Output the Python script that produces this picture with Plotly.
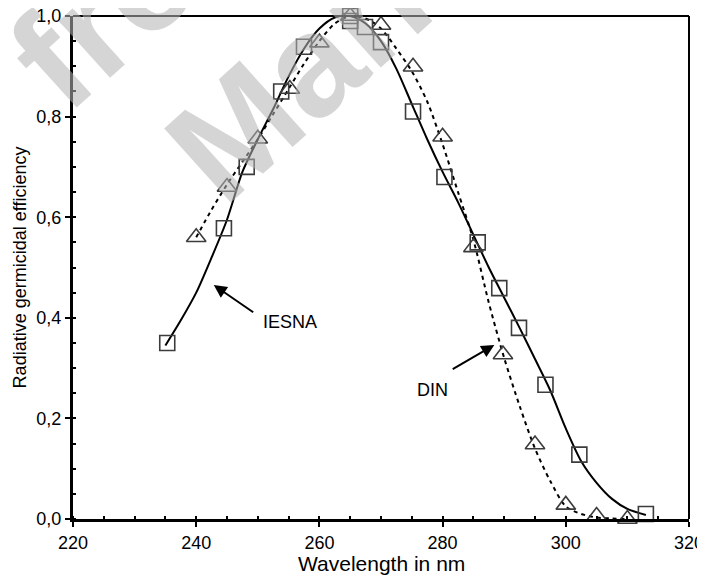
import plotly.graph_objects as go

# IESNA curve (solid line)
iesna_curve_x = [235, 237.5, 240, 242.5, 245, 247.5, 250, 252.5, 255, 257.5, 260, 262.5, 265,
                 267.5, 270, 272.5, 275, 277.5, 280, 282.5, 285, 287.5, 290, 292.5, 295, 297.5,
                 300, 302.5, 305, 307.5, 310, 313]
iesna_curve_y = [0.345, 0.395, 0.45, 0.52, 0.595, 0.69, 0.755, 0.815, 0.88, 0.935, 0.975, 0.997, 1.0,
                 0.985, 0.95, 0.895, 0.825, 0.755, 0.69, 0.63, 0.565, 0.50, 0.44, 0.38, 0.318, 0.255,
                 0.18, 0.115, 0.072, 0.04, 0.02, 0.008]

# IESNA markers (squares)
iesna_x = [235.3, 244.5, 248.2, 253.8, 257.5, 265, 265, 267.4, 270, 275.2, 280.3, 285.7, 289.2,
           292.4, 296.7, 302.2, 313]
iesna_y = [0.35, 0.578, 0.70, 0.85, 0.939, 1.0, 0.99, 0.978, 0.948, 0.81, 0.68, 0.55, 0.459,
           0.38, 0.267, 0.128, 0.01]

# DIN curve (dashed line)
din_curve_x = [240, 242.5, 245, 247.5, 250, 252.5, 255, 257.5, 260, 262.5, 265, 267.5, 270, 272.5,
               275, 277.5, 280, 282.5, 285, 287.5, 290, 292.5, 295, 297.5, 300, 302.5, 305, 307.5, 310]
din_curve_y = [0.56, 0.615, 0.665, 0.71, 0.755, 0.805, 0.855, 0.905, 0.95, 0.985, 1.0, 0.995, 0.975,
               0.935, 0.89, 0.83, 0.745, 0.65, 0.555, 0.43, 0.32, 0.225, 0.14, 0.075, 0.025, 0.01,
               0.003, 0.001, 0.0]

# DIN markers (triangles)
din_x = [240, 245, 250, 255.2, 260, 265, 270, 275.2, 280, 285, 289.8, 295, 300, 305, 310]
din_y = [0.56, 0.66, 0.756, 0.855, 0.947, 1.0, 0.982, 0.899, 0.76, 0.54, 0.327, 0.148, 0.028, 0.006, 0.0]

x_ticks = [220, 240, 260, 280, 300, 320]
y_ticks = [0.0, 0.2, 0.4, 0.6, 0.8, 1.0]

FONT = "Liberation Sans, Arial, sans-serif"
MK = "#3c3c3c"
WM = "rgba(180,180,180,0.56)"

fig = go.Figure()
fig.add_trace(go.Scatter(x=iesna_curve_x, y=iesna_curve_y, mode="lines",
                         line=dict(color="black", width=2, shape="spline", smoothing=0.8),
                         showlegend=False, hoverinfo="skip"))
fig.add_trace(go.Scatter(x=din_curve_x, y=din_curve_y, mode="lines",
                         line=dict(color="black", width=2, shape="spline", smoothing=0.8,
                                   dash="4px,4px"),
                         showlegend=False, hoverinfo="skip", cliponaxis=False))
fig.add_trace(go.Scatter(x=iesna_x, y=iesna_y, mode="markers", name="IESNA",
                         marker=dict(symbol="square-open", size=15, color=MK,
                                     line=dict(width=1.6, color=MK)),
                         showlegend=False, cliponaxis=False))
fig.add_trace(go.Scatter(x=din_x, y=din_y, mode="markers", name="DIN",
                         marker=dict(symbol="triangle-up-open", size=17, color=MK,
                                     line=dict(width=1.6, color=MK)),
                         showlegend=False, cliponaxis=False))

annotations = [
    dict(x=242.85, y=0.465, ax=249.5, ay=0.409, axref="x", ayref="y", xref="x", yref="y",
         text="", showarrow=True, arrowhead=2, arrowsize=1.3, arrowwidth=2, arrowcolor="black"),
    dict(x=288.4, y=0.346, ax=281.4, ay=0.296, axref="x", ayref="y", xref="x", yref="y",
         text="", showarrow=True, arrowhead=2, arrowsize=1.3, arrowwidth=2, arrowcolor="black"),
    dict(x=255.2, y=0.392, xref="x", yref="y", text="IESNA", showarrow=False,
         font=dict(family=FONT, size=18, color="black")),
    dict(x=278.3, y=0.257, xref="x", yref="y", text="DIN", showarrow=False,
         font=dict(family=FONT, size=18, color="black")),
    # x-axis title
    dict(x=0.5, y=-0.0875, xref="paper", yref="paper", text="Wavelength in nm", showarrow=False,
         xanchor="center", yanchor="middle", font=dict(family=FONT, size=21, color="black")),
    # watermark
    dict(x=0.095, y=1.05, xref="paper", yref="paper", text="<b>free</b>", showarrow=False,
         textangle=-42, xanchor="center", yanchor="middle",
         font=dict(family=FONT, size=145, color=WM)),
    dict(x=0.54, y=1.075, xref="paper", yref="paper", text="<b>Manuals</b>", showarrow=False,
         textangle=-42, xanchor="center", yanchor="middle",
         font=dict(family=FONT, size=145, color=WM)),
]

shapes = [
    dict(type="line", xref="paper", yref="paper", x0=0, x1=1, y0=1, y1=1,
         line=dict(color="black", width=2)),
    dict(type="line", xref="paper", yref="paper", x0=1, x1=1, y0=0, y1=1,
         line=dict(color="black", width=2)),
]

# The page body has an 8px margin, so the figure is made 8px smaller and margins shifted.
fig.update_layout(
    width=697, height=569,
    margin=dict(l=65, r=16, t=8, b=58),
    paper_bgcolor="white", plot_bgcolor="white",
    separators=",.",
    font=dict(family=FONT, color="black", size=18),
    annotations=annotations,
    shapes=shapes,
    xaxis=dict(range=[220, 320], tickvals=x_ticks, ticks="outside", ticklen=5, tickwidth=2,
               tickcolor="black", showline=True, linewidth=3, linecolor="black", mirror=False,
               showgrid=False, zeroline=False, automargin=False, ticklabeloverflow="allow",
               minor=dict(ticks="inside", dtick=5, ticklen=3, tickwidth=1.5, tickcolor="black"),
               tickfont=dict(family=FONT, size=18, color="black")),
    yaxis=dict(range=[0, 1.0], tickvals=y_ticks, tickformat=".1f", ticks="outside", ticklen=5,
               tickwidth=2, tickcolor="black", showline=True, linewidth=3, linecolor="black",
               mirror=False, showgrid=False, zeroline=False, automargin=False,
               ticklabeloverflow="allow",
               minor=dict(ticks="inside", dtick=0.05, ticklen=3, tickwidth=1.5, tickcolor="black"),
               tickfont=dict(family=FONT, size=18, color="black"),
               title=dict(text="Radiative germicidal efficiency",
                          font=dict(family=FONT, size=18, color="black"), standoff=6)),
)

fig.write_html("out.html")
